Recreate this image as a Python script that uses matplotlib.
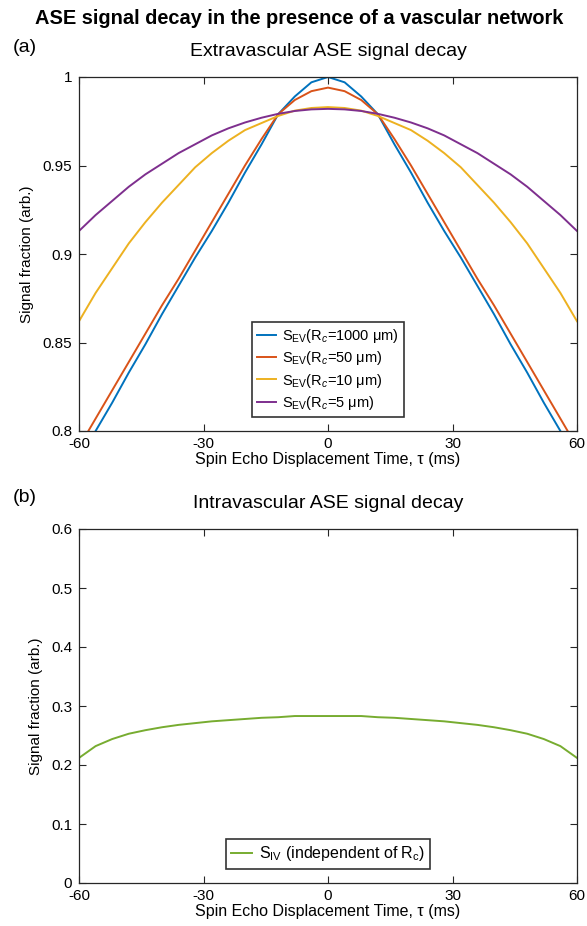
import matplotlib.pyplot as plt
import numpy as np

plt.rcParams['font.family'] = ['Liberation Sans', 'DejaVu Sans']
plt.rcParams['mathtext.fontset'] = 'custom'
plt.rcParams['mathtext.rm'] = 'Liberation Sans'
plt.rcParams['mathtext.it'] = 'Liberation Sans:italic'

# spin echo displacement time (ms)
tau = [-60, -56, -52, -48, -44, -40, -36, -32, -28, -24, -20, -16, -12, -8, -4, 0,
       4, 8, 12, 16, 20, 24, 28, 32, 36, 40, 44, 48, 52, 56, 60]

# one half (tau = 0..60), mirrored below
half_1000 = [1.000, 0.997, 0.989, 0.979, 0.962, 0.946, 0.929, 0.913, 0.898, 0.882,
             0.866, 0.849, 0.833, 0.816, 0.800, 0.784]
half_50 = [0.994, 0.992, 0.987, 0.979, 0.965, 0.950, 0.934, 0.918, 0.902, 0.886,
           0.871, 0.855, 0.839, 0.823, 0.807, 0.791]
half_10 = [0.983, 0.9825, 0.981, 0.978, 0.974, 0.970, 0.964, 0.957, 0.949, 0.939,
           0.929, 0.918, 0.906, 0.892, 0.878, 0.862]
half_5 = [0.982, 0.9817, 0.9808, 0.9792, 0.977, 0.9743, 0.971, 0.967, 0.962, 0.957,
          0.951, 0.945, 0.938, 0.930, 0.922, 0.913]
half_iv = [0.283, 0.283, 0.283, 0.281, 0.280, 0.278, 0.276, 0.274, 0.271, 0.268,
           0.264, 0.259, 0.253, 0.244, 0.232, 0.212]

xticks = [-60, -30, 0, 30, 60]
xticklabels = ['-60', '-30', '0', '30', '60']

def mirror(h):
    return h[:0:-1] + h

ev_labels = [r'S$_{\rm EV}$(R$_c$=1000 μm)', r'S$_{\rm EV}$(R$_c$=50 μm)',
             r'S$_{\rm EV}$(R$_c$=10 μm)', r'S$_{\rm EV}$(R$_c$=5 μm)']
ev_data = [half_1000, half_50, half_10, half_5]
ev_colors = ['#0072BD', '#D95319', '#EDB120', '#7E2F8E']

fig = plt.figure(figsize=(5.87, 9.26), dpi=100)
ax1 = fig.add_axes([79/587, 1-431/926, 498/587, 354/926])
ax2 = fig.add_axes([79/587, 1-883/926, 498/587, 354/926])

for h, c, lab in zip(ev_data, ev_colors, ev_labels):
    ax1.plot(tau, mirror(h), color=c, lw=1.4, label=lab)
ax2.plot(tau, mirror(half_iv), color='#77AC30', lw=1.4, label=r'S$_{\rm IV}$ (independent of R$_{\rm c}$)')

ax1.set_ylim(0.8, 1.0)
ax1.set_yticks([0.8, 0.85, 0.9, 0.95, 1.0])
ax1.set_yticklabels(['0.8', '0.85', '0.9', '0.95', '1'])
ax2.set_ylim(0, 0.6)
ax2.set_yticks([0, 0.1, 0.2, 0.3, 0.4, 0.5, 0.6])
ax2.set_yticklabels(['0', '0.1', '0.2', '0.3', '0.4', '0.5', '0.6'])

for ax, title in [(ax1, 'Extravascular ASE signal decay'), (ax2, 'Intravascular ASE signal decay')]:
    ax.set_xlim(-60, 60)
    ax.set_xticks(xticks)
    ax.set_xticklabels(xticklabels)
    ax.tick_params(direction='in', top=True, right=True, labelsize=11, length=5,
                   width=0.8, color='#262626')
    ax.tick_params(axis='y', pad=5)
    ax.tick_params(axis='x', pad=4)
    for s in ax.spines.values():
        s.set_color('#262626')
        s.set_linewidth(0.9)
    ax.set_xlabel('Spin Echo Displacement Time, τ (ms)', fontsize=11.5, labelpad=1)
    ax.set_ylabel('Signal fraction (arb.)', fontsize=11, labelpad=6)
    ax.set_title(title, fontsize=14, pad=15)

leg1 = ax1.legend(loc='lower center', bbox_to_anchor=(0.5, 14/354), borderaxespad=0,
                  fontsize=10.5, frameon=True, fancybox=False, handlelength=1.3,
                  handletextpad=0.4, labelspacing=0.3, borderpad=0.35)
leg1.get_frame().set_edgecolor('black')
leg1.get_frame().set_linewidth(1.2)
leg2 = ax2.legend(loc='lower center', bbox_to_anchor=(0.5, 14/354), borderaxespad=0,
                  fontsize=11.5, frameon=True, fancybox=False, handlelength=1.3,
                  handletextpad=0.4, borderpad=0.35)
leg2.get_frame().set_edgecolor('black')
leg2.get_frame().set_linewidth(1.2)

fig.text(299/587, 1-19/926, 'ASE signal decay in the presence of a vascular network',
         ha='center', va='center', fontsize=14.4, fontweight='bold')
fig.text(13/587, 1-48/926, '(a)', ha='left', va='center', fontsize=14)
fig.text(13/587, 1-498/926, '(b)', ha='left', va='center', fontsize=14)

fig.savefig('out.png', dpi=100)
